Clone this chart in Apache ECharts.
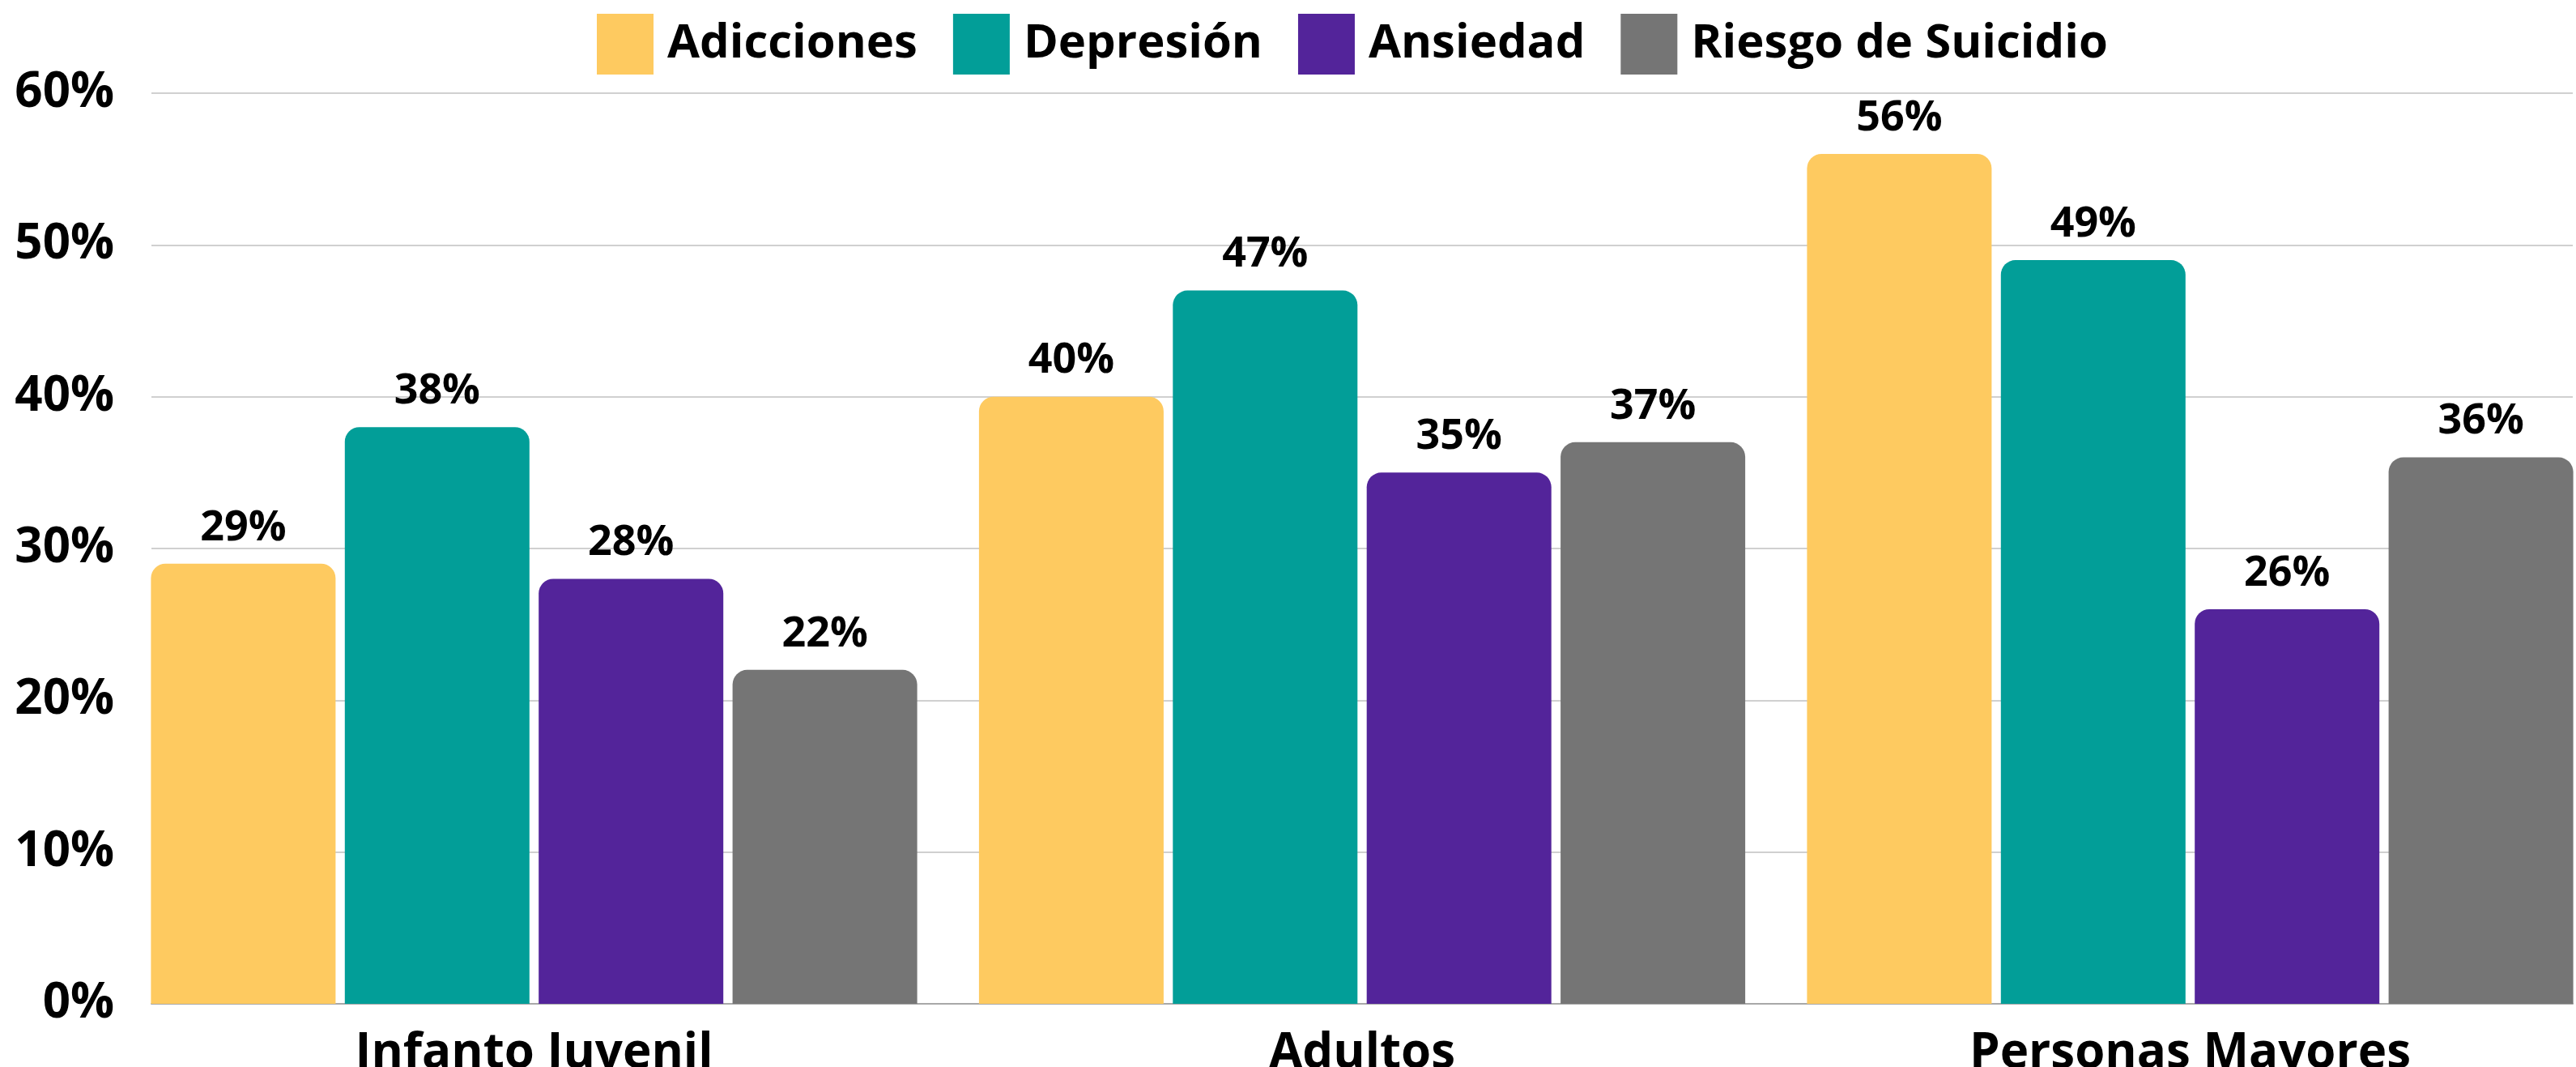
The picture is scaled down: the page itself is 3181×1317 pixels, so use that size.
<!DOCTYPE html>
<html>
<head>
<meta charset="utf-8">
<script src="https://cdn.jsdelivr.net/npm/echarts@6/dist/echarts.min.js"></script>
<style>
html,body{margin:0;padding:0;background:#fff;}
#chart{width:3181px;height:1317px;}
</style>
</head>
<body>
<div id="chart"></div>
<script>
const categories = ['Infanto Juvenil', 'Adultos', 'Personas Mayores'];
const seriesNames = ['Adicciones', 'Depresión', 'Ansiedad', 'Riesgo de Suicidio'];
const adicciones = [29, 40, 56];
const depresion = [38, 47, 49];
const ansiedad = [28, 35, 26];
const riesgoSuicidio = [22, 37, 36];
const yTicks = [0, 10, 20, 30, 40, 50, 60];
const colors = ['#FECA60', '#029E98', '#53249A', '#757575'];

const FONT = '"Open Sans", "Noto Sans", sans-serif';
const values = [adicciones, depresion, ansiedad, riesgoSuicidio];

const chart = echarts.init(document.getElementById('chart'), null, {renderer: 'canvas'});
const option = {
  backgroundColor: '#ffffff',
  animation: false,
  color: colors,
  legend: {
    data: seriesNames,
    left: 732,
    top: 12,
    itemWidth: 70,
    itemHeight: 75,
    itemGap: 44,
    icon: 'rect',
    textStyle: {fontFamily: FONT, fontWeight: 'bold', fontSize: 58, color: '#000', padding: [0, 0, 0, 12]}
  },
  grid: [
    {left: 187, right: 4, top: 115, bottom: 78, outerBoundsMode: 'none', containLabel: false},
    {left: 659.5, right: 476.5, top: 115, bottom: 78, outerBoundsMode: 'none', containLabel: false}
  ],
  xAxis: [
    {
      gridIndex: 0, type: 'category', data: categories,
      axisLine: {show: true, lineStyle: {color: '#A8A8A8', width: 2}},
      axisTick: {show: false}, axisLabel: {show: false}, splitLine: {show: false}
    },
    {
      gridIndex: 1, type: 'category', data: categories, boundaryGap: false,
      axisLine: {show: false}, axisTick: {show: false},
      axisLabel: {fontFamily: FONT, fontWeight: 'bold', fontSize: 60, color: '#000', margin: 32}
    }
  ],
  yAxis: [
    {
      gridIndex: 0, type: 'value', min: yTicks[0], max: yTicks[yTicks.length - 1], interval: 10,
      axisLine: {show: false}, axisTick: {show: false},
      axisLabel: {formatter: '{value}%', fontFamily: FONT, fontWeight: 'bold', fontSize: 60, color: '#000', margin: 46},
      splitLine: {lineStyle: {color: '#D0D0D0', width: 2}}
    },
    {
      gridIndex: 1, type: 'value', min: yTicks[0], max: yTicks[yTicks.length - 1], interval: 10,
      show: false, splitLine: {show: false}
    }
  ],
  series: seriesNames.map((name, i) => ({
    name: name,
    type: 'bar',
    xAxisIndex: 1,
    yAxisIndex: 1,
    data: values[i],
    barWidth: 228,
    barGap: '5%',
    itemStyle: {color: colors[i], borderRadius: [18, 18, 0, 0]},
    label: {
      show: true, position: 'top', distance: 18,
      formatter: '{c}%',
      fontFamily: FONT, fontWeight: 'bold', fontSize: 52, color: '#000'
    }
  }))
};
chart.setOption(option);
</script>
</body>
</html>
